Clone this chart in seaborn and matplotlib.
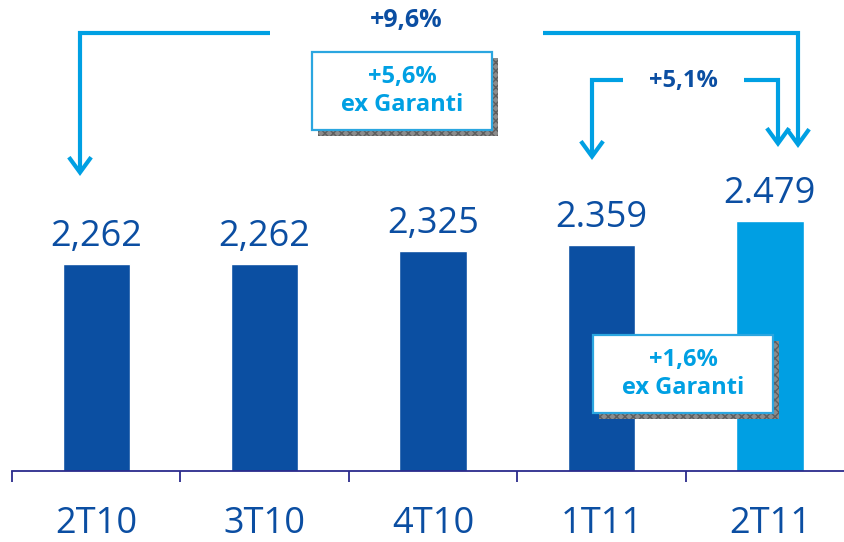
import matplotlib
matplotlib.use('Agg')
from matplotlib import pyplot as plt
from matplotlib.patches import Rectangle, FancyArrowPatch
from matplotlib.path import Path
import seaborn as sns

# data
quarters = ['2T10', '3T10', '4T10', '1T11', '2T11']
values = [2262, 2262, 2325, 2359, 2479]
value_labels = ['2,262', '2,262', '2,325', '2.359', '2.479']
bar_colors = ['#0B4FA2', '#0B4FA2', '#0B4FA2', '#0B4FA2', '#009FE3']

growth_total = '+9,6%'
growth_qoq = '+5,1%'
box_top = '+5,6%\nex Garanti'
box_bottom = '+1,6%\nex Garanti'

dark_blue = '#0B4EA2'
light_blue = '#00A0E3'
axis_col = '#2B2B8C'

sns.set_style('white')
plt.rcParams['font.family'] = ['Open Sans', 'DejaVu Sans']

W, H = 844, 542
fig = plt.figure(figsize=(W / 100, H / 100), dpi=100)
ax = fig.add_axes([12 / W, 71 / H, 832 / W, 471 / H])

sns.barplot(x=quarters, y=values, hue=quarters, palette=bar_colors,
            legend=False, width=0.4, saturation=1, ax=ax)

ax.set_xlim(-0.5, 4.44)
ax.set_ylim(1219, 3592)

for s in ['top', 'right', 'left']:
    ax.spines[s].set_visible(False)
ax.spines['bottom'].set_color(axis_col)
ax.spines['bottom'].set_linewidth(1.3)
ax.set_yticks([])
ax.set_ylabel('')
ax.set_xlabel('')

# boundary ticks and category labels
ax.set_xticks([i - 0.5 for i in range(len(quarters))], [''] * len(quarters))
ax.tick_params(axis='x', which='major', direction='out', length=8,
               width=1.3, color=axis_col, bottom=True)
ax.set_xticks(range(len(quarters)), quarters, minor=True)
ax.tick_params(axis='x', which='minor', length=0, pad=25,
               labelsize=26, labelcolor=dark_blue)

for i, (v, lab) in enumerate(zip(values, value_labels)):
    ax.annotate(lab, (i, v), xytext=(0, 13), textcoords='offset points',
                ha='center', va='baseline', fontsize=26, color=dark_blue)


def fp(x, y):
    return (x / W, 1 - y / H)


def elbow(points):
    verts = [fp(x, y) for x, y in points]
    codes = [Path.MOVETO] + [Path.LINETO] * (len(verts) - 1)
    arr = FancyArrowPatch(path=Path(verts, codes),
                          arrowstyle='->,head_length=0.55,head_width=0.4',
                          mutation_scale=20, lw=3, color=light_blue,
                          transform=fig.transFigure, joinstyle='miter',
                          capstyle='butt')
    fig.add_artist(arr)


# +9,6% arrows
elbow([(270, 33), (80, 33), (80, 176)])
elbow([(543, 33), (798, 33), (798, 148)])
fig.text(*fp(406, 21), growth_total, ha='center', va='center',
         fontsize=18, fontweight='bold', color=dark_blue)

# +5,1% arrows
elbow([(623, 80), (592, 80), (592, 160)])
elbow([(744, 80), (778, 80), (778, 147)])
fig.text(*fp(683, 81), growth_qoq, ha='center', va='center',
         fontsize=17, fontweight='bold', color=dark_blue)


def shadow_box(x0, y0, x1, y1, txt):
    sh = Rectangle(fp(x0 + 6, y1 + 6), (x1 - x0) / W, (y1 - y0) / H,
                   transform=fig.transFigure, facecolor='#8c8c8c',
                   edgecolor='#5e5e5e', hatch='xxxx', lw=0)
    fig.add_artist(sh)
    bx = Rectangle(fp(x0, y1), (x1 - x0) / W, (y1 - y0) / H,
                   transform=fig.transFigure, facecolor='white',
                   edgecolor='#2BA6E0', lw=1.6)
    fig.add_artist(bx)
    fig.text(*fp((x0 + x1) / 2, (y0 + y1) / 2), txt, ha='center',
             va='center', fontsize=17, fontweight='bold', color=light_blue,
             linespacing=1.2)


shadow_box(312, 52, 492, 130, box_top)
shadow_box(593, 335, 773, 413, box_bottom)

fig.savefig('out.png', dpi=100)
